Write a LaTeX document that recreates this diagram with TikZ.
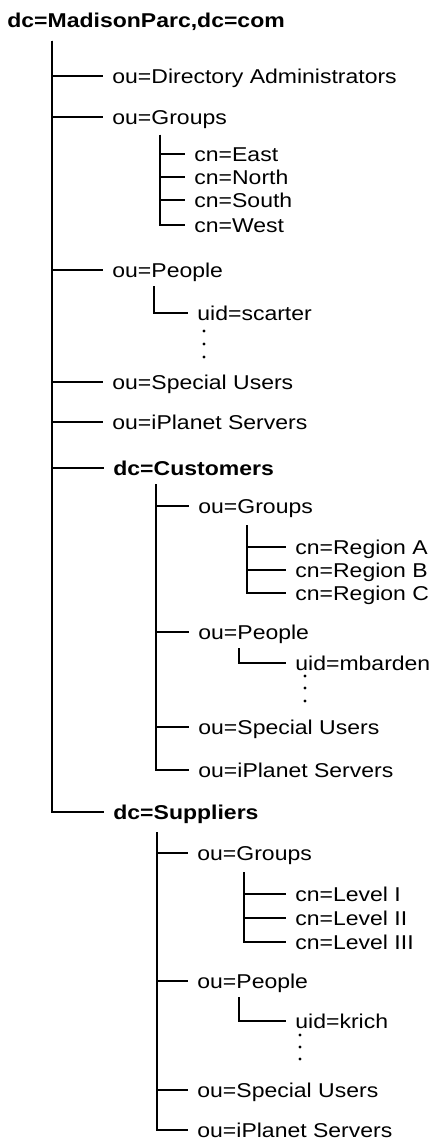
\documentclass[tikz,border=0pt]{standalone}
\usepackage{fontspec}
\setmainfont[FakeStretch=1.15]{Liberation Sans}

\begin{document}
\begin{tikzpicture}[
      x=0.5pt, y=-0.5pt,
      entry/.style={
         anchor=west,
         inner xsep=4.5pt,
         inner ysep=0pt,
         text height=7.2pt,
         text depth=0pt,
         font=\fontsize{10}{12}\selectfont},
      dcentry/.style={entry, font=\fontsize{10}{12}\selectfont\bfseries},
      branch/.style={draw=black, line width=1pt},
      elldot/.style={circle, fill=black, inner sep=0pt, minimum size=1.7pt}
      ]
      \useasboundingbox (0,0) rectangle (435,1139);

      \node[dcentry, inner xsep=0pt] (root) at (7,20.5) {dc=MadisonParc,dc=com};

      % spine tops
      \coordinate (rs) at (52,41);
      \coordinate (gs) at (159.5,135);
      \coordinate (ps) at (154,286);
      \coordinate (cs) at (156,484);
      \coordinate (cgs) at (246.5,525);
      \coordinate (cps) at (239,648);
      \coordinate (ss) at (157,832);
      \coordinate (sgs) at (244,872);
      \coordinate (sps) at (239,997);

      % dc=MadisonParc,dc=com
      \node[entry] (dirad) at (103,76) {ou=Directory Administrators};
      \node[entry] (grp) at (103,117) {ou=Groups};
      \node[entry] (east) at (185,154) {cn=East};
      \node[entry] (north) at (185,177) {cn=North};
      \node[entry] (south) at (185,200.5) {cn=South};
      \node[entry] (west) at (185,225) {cn=West};
      \node[entry] (ppl) at (103,270) {ou=People};
      \node[entry] (scarter) at (188,313) {uid=scarter};
      \node[entry] (spec) at (103,382) {ou=Special Users};
      \node[entry] (ipl) at (103,422) {ou=iPlanet Servers};

      % dc=Customers
      \node[dcentry] (cust) at (104,468) {dc=Customers};
      \node[entry] (cgrp) at (189,506) {ou=Groups};
      \node[entry] (rega) at (286,547) {cn=Region A};
      \node[entry] (regb) at (286,570) {cn=Region B};
      \node[entry] (regc) at (286,593) {cn=Region C};
      \node[entry] (cppl) at (189,632) {ou=People};
      \node[entry] (mbarden) at (286,663) {uid=mbarden};
      \node[entry] (cspec) at (189,727) {ou=Special Users};
      \node[entry] (cipl) at (189,770) {ou=iPlanet Servers};

      % dc=Suppliers
      \node[dcentry] (supp) at (104,812) {dc=Suppliers};
      \node[entry] (sgrp) at (188,853) {ou=Groups};
      \node[entry] (lev1) at (286,894) {cn=Level I};
      \node[entry] (lev2) at (286,918) {cn=Level II};
      \node[entry] (lev3) at (286,942) {cn=Level III};
      \node[entry] (sppl) at (188,981) {ou=People};
      \node[entry] (krich) at (286,1021) {uid=krich};
      \node[entry] (sspec) at (188,1090) {ou=Special Users};
      \node[entry] (sipl) at (188,1130) {ou=iPlanet Servers};

    \foreach \s/\n in {% spine/child
      rs/dirad, rs/grp, rs/ppl, rs/spec, rs/ipl, rs/cust, rs/supp,
      gs/east, gs/north, gs/south, gs/west,
      ps/scarter,
      cs/cgrp, cs/cppl, cs/cspec, cs/cipl,
      cgs/rega, cgs/regb, cgs/regc,
      cps/mbarden,
      ss/sgrp, ss/sppl, ss/sspec, ss/sipl,
      sgs/lev1, sgs/lev2, sgs/lev3,
      sps/krich}
       \draw [branch] (\s) |- (\n.west);

    % more entries
    \foreach \nm/\x/\y in {a/204/331, b/204/344, c/204/357,
      d/305/676, e/305/688, f/305/701,
      g/300/1035, h/300/1047, i/300/1059}
       \node[elldot] (dot\nm) at (\x,\y) {};

    \end{tikzpicture}
\end{document}
